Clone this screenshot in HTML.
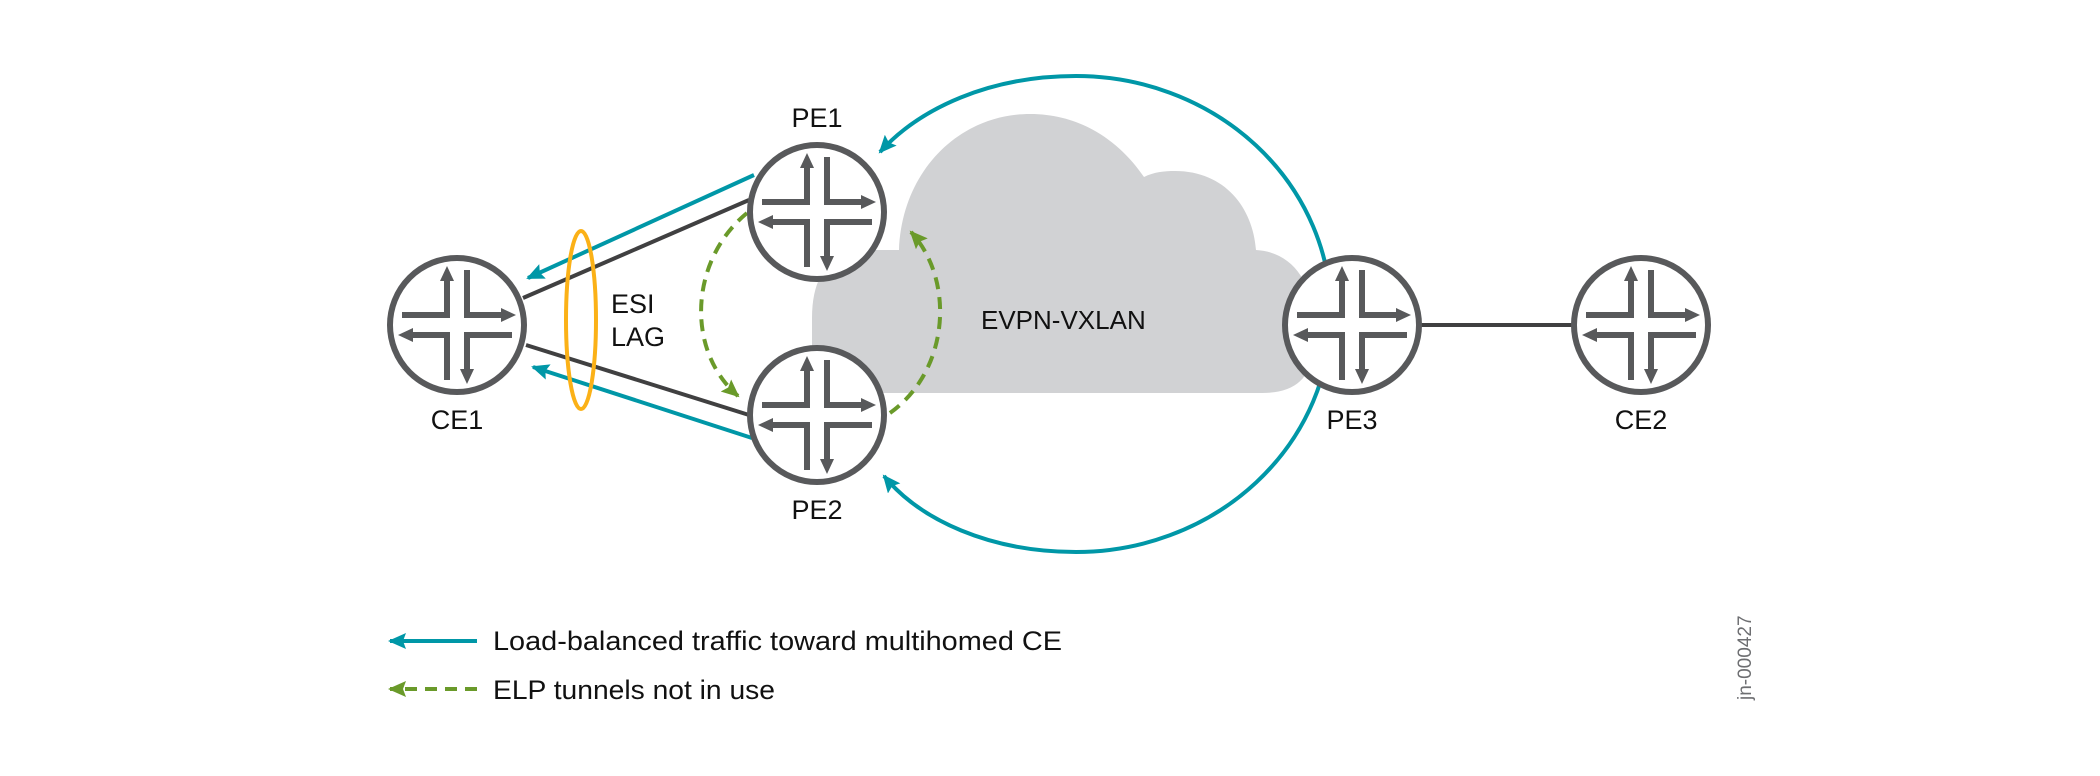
<!DOCTYPE html>
<html><head><meta charset="utf-8"><style>
html,body{margin:0;padding:0;background:#fff;}
svg{display:block;}
text{font-family:"Liberation Sans",sans-serif;fill:#111;}
</style></head><body>
<svg width="2100" height="776" viewBox="0 0 2100 776" xmlns="http://www.w3.org/2000/svg">
<defs>
<marker id="ta" markerWidth="20" markerHeight="16" refX="16" refY="8" orient="auto" markerUnits="userSpaceOnUse"><path d="M0,0 L18,8 L0,16 L3,8 Z" fill="#0097a7"/></marker>
<marker id="ga" markerWidth="20" markerHeight="16" refX="16" refY="8" orient="auto" markerUnits="userSpaceOnUse"><path d="M0,0 L18,8 L0,16 L3,8 Z" fill="#6a9a2a"/></marker>
<g id="r">
<circle cx="0" cy="0" r="67" fill="#fff" stroke="#58595b" stroke-width="6"/>
<g fill="none" stroke="#58595b" stroke-width="6">
<path d="M-55,-10 H-10 V-46"/>
<path d="M10,-55 V-10 H46"/>
<path d="M55,10 H10 V46"/>
<path d="M-10,55 V10 H-46"/>
</g>
<g fill="#58595b">
<path d="M-10,-59 L-17,-44 L-3,-44 Z"/>
<path d="M59,-10 L44,-17 L44,-3 Z"/>
<path d="M10,59 L3,44 L17,44 Z"/>
<path d="M-59,10 L-44,3 L-44,17 Z"/>
</g>
</g>
</defs>
<path d="M812 393 L812 318 Q812 250 872 250 L899 250 C902 170 960 114 1030 114 C1082 114 1120 142 1144 177 C1154 172 1164 171 1175 171 C1225 171 1253 208 1256 250 C1292 252 1313 282 1313 322 L1313 345 Q1313 393 1262 393 Z" fill="#d1d2d4"/>
<path d="M1076 76 A255 238 0 0 1 1076 552" fill="none" stroke="#0097a7" stroke-width="4"/>
<path d="M1076 76 C990 76 920 108 880 152" fill="none" stroke="#0097a7" stroke-width="4" marker-end="url(#ta)"/>
<path d="M1076 552 C990 552 920 520 884 476" fill="none" stroke="#0097a7" stroke-width="4" marker-end="url(#ta)"/>
<line x1="749" y1="200" x2="523" y2="298" stroke="#404041" stroke-width="4"/>
<line x1="526" y1="345" x2="749" y2="415" stroke="#404041" stroke-width="4"/>
<line x1="1420" y1="325" x2="1574" y2="325" stroke="#404041" stroke-width="4"/>
<line x1="754" y1="175" x2="528" y2="278" stroke="#0097a7" stroke-width="4" marker-end="url(#ta)"/>
<line x1="752" y1="438" x2="533" y2="367" stroke="#0097a7" stroke-width="4" marker-end="url(#ta)"/>
<path d="M747 213 C690 260 685 350 738 396" fill="none" stroke="#6a9a2a" stroke-width="4" stroke-dasharray="12,8" marker-end="url(#ga)"/>
<path d="M890 413 C950 370 955 280 911 232" fill="none" stroke="#6a9a2a" stroke-width="4" stroke-dasharray="12,8" marker-end="url(#ga)"/>
<ellipse cx="581" cy="320" rx="15" ry="89" fill="none" stroke="#fbb117" stroke-width="4"/>
<use href="#r" x="457" y="325"/>
<use href="#r" x="817" y="212"/>
<use href="#r" x="817" y="415"/>
<use href="#r" x="1352" y="325"/>
<use href="#r" x="1641" y="325"/>
<g font-size="27" text-anchor="middle">
<text x="817" y="127">PE1</text>
<text x="457" y="429">CE1</text>
<text x="817" y="519">PE2</text>
<text x="1352" y="429">PE3</text>
<text x="1641" y="429">CE2</text>
</g>
<text x="611" y="313" font-size="27">ESI</text>
<text x="611" y="346" font-size="27">LAG</text>
<text x="981" y="329" font-size="26">EVPN-VXLAN</text>
<line x1="477" y1="641" x2="390" y2="641" stroke="#0097a7" stroke-width="4" marker-end="url(#ta)"/>
<line x1="477" y1="689" x2="390" y2="689" stroke="#6a9a2a" stroke-width="4" stroke-dasharray="12,8" marker-end="url(#ga)"/>
<text x="493" y="650" font-size="27" textLength="569" lengthAdjust="spacingAndGlyphs">Load-balanced traffic toward multihomed CE</text>
<text x="493" y="699" font-size="27" textLength="282" lengthAdjust="spacingAndGlyphs">ELP tunnels not in use</text>
<text transform="translate(1751,700) rotate(-90)" font-size="19" style="fill:#6d6e71">jn-000427</text>
</svg>
</body></html>
